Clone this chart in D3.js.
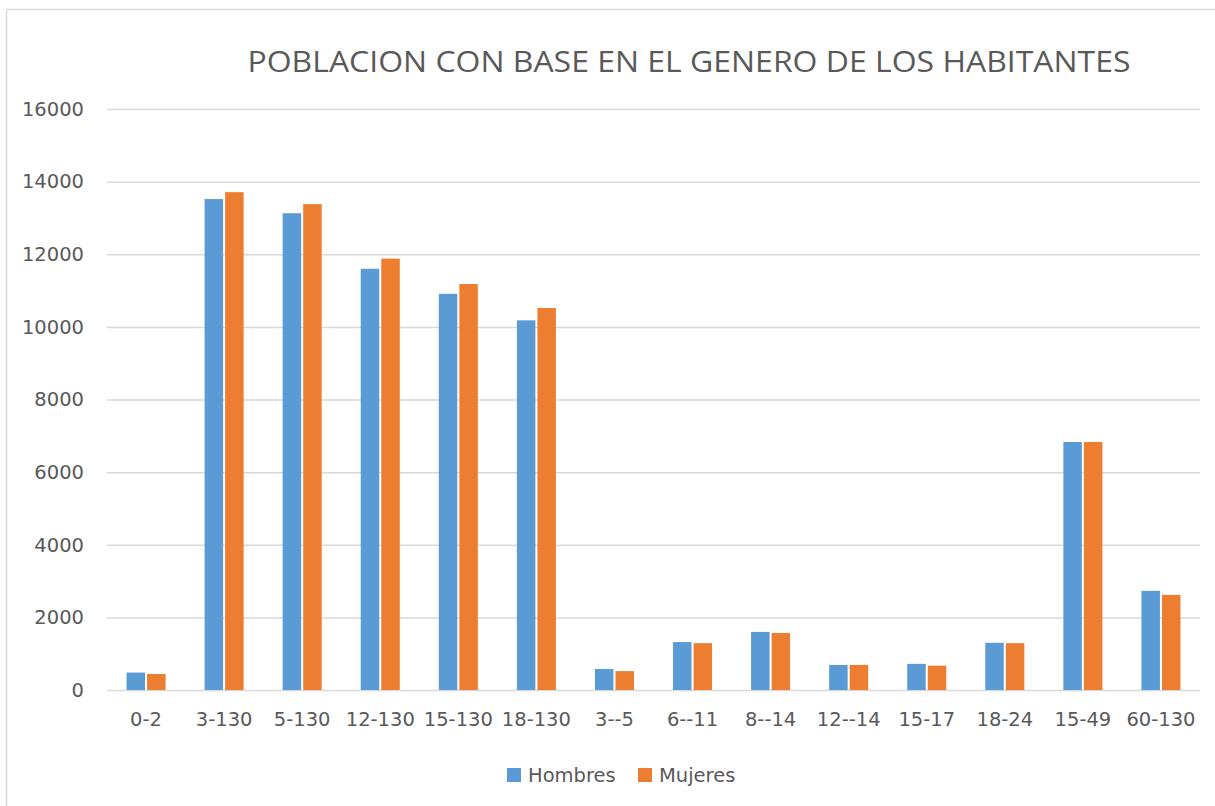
<!DOCTYPE html>
<html>
<head>
<meta charset="utf-8">
<script src="https://cdn.jsdelivr.net/npm/d3@7"></script>
<style>
  html, body { margin: 0; padding: 0; background: #fff; }
  svg { display: block; }
</style>
</head>
<body>
<div id="chart"></div>
<script>
const categories = ['0-2', '3-130', '5-130', '12-130', '15-130', '18-130', '3--5', '6--11', '8--14', '12--14', '15-17', '18-24', '15-49', '60-130'];
const hombres = [480, 13520, 13130, 11600, 10910, 10180, 580, 1320, 1600, 690, 720, 1300, 6830, 2730];
const mujeres = [440, 13710, 13380, 11880, 11180, 10520, 520, 1290, 1570, 690, 670, 1290, 6830, 2620];
const seriesNames = ['Hombres', 'Mujeres'];
const yTicks = [0, 2000, 4000, 6000, 8000, 10000, 12000, 14000, 16000];
const title = 'POBLACION CON BASE EN EL GENERO DE LOS HABITANTES';

const width = 1215, height = 806;
const colors = { Hombres: '#5b9bd5', Mujeres: '#ed7d31' };
const plot = { left: 107, right: 1200, top: 109, bottom: 690 };
const font = '"DejaVu Sans", sans-serif';
const labelSize = '19.5px';

const svg = d3.select('#chart').append('svg')
    .attr('width', width)
    .attr('height', height);

// chart area frame (runs off the right/bottom edge in the original)
svg.append('rect')
    .attr('x', 6.5).attr('y', 9.5)
    .attr('width', 1300).attr('height', 900)
    .attr('fill', '#fff')
    .attr('stroke', '#d9d9d9')
    .attr('stroke-width', 1.5);

const x0 = d3.scaleBand()
    .domain(categories)
    .range([plot.left, plot.right])
    .paddingInner(0.5)
    .paddingOuter(0.25);

const x1 = d3.scaleBand()
    .domain(seriesNames)
    .range([0, x0.bandwidth()])
    .paddingInner(0.1);

const y = d3.scaleLinear()
    .domain([0, 16000])
    .range([plot.bottom, plot.top]);

// gridlines + y labels
const yAxis = svg.append('g')
    .attr('transform', 'translate(' + plot.left + ',0)')
    .call(d3.axisLeft(y).tickValues(yTicks).tickSize(-(plot.right - plot.left)).tickPadding(23).tickFormat(d3.format('d')));
yAxis.select('.domain').remove();
yAxis.selectAll('.tick line')
    .attr('stroke', '#d9d9d9')
    .attr('stroke-width', 1.5);
yAxis.selectAll('.tick text')
    .attr('fill', '#595959')
    .style('font-family', font)
    .style('font-size', labelSize);

// x labels
const xAxis = svg.append('g')
    .attr('transform', 'translate(0,' + plot.bottom + ')')
    .call(d3.axisBottom(x0).tickSize(0).tickPadding(22));
xAxis.select('.domain').remove();
xAxis.selectAll('.tick text')
    .attr('fill', '#595959')
    .style('font-family', font)
    .style('font-size', labelSize);

// bars
const rows = categories.map((c, i) => ({ cat: c, Hombres: hombres[i], Mujeres: mujeres[i] }));

const groups = svg.append('g').selectAll('g')
    .data(rows)
    .join('g')
    .attr('transform', d => 'translate(' + x0(d.cat) + ',0)');

groups.selectAll('rect')
    .data(d => seriesNames.map(s => ({ key: s, value: d[s] })))
    .join('rect')
    .attr('x', d => x1(d.key))
    .attr('y', d => y(d.value))
    .attr('width', x1.bandwidth())
    .attr('height', d => y(0) - y(d.value))
    .attr('fill', d => colors[d.key]);

// title
svg.append('text')
    .attr('x', 689)
    .attr('y', 72)
    .attr('text-anchor', 'middle')
    .attr('fill', '#595959')
    .attr('textLength', 883)
    .attr('lengthAdjust', 'spacingAndGlyphs')
    .style('font-family', '"Open Sans", sans-serif')
    .style('font-size', '29px')
    .text(title);

// legend
const legend = svg.append('g');
const legendX = [507, 638];
seriesNames.forEach((s, i) => {
  legend.append('rect')
      .attr('x', legendX[i]).attr('y', 768)
      .attr('width', 14).attr('height', 14)
      .attr('fill', colors[s]);
  legend.append('text')
      .attr('x', legendX[i] + 21).attr('y', 782)
      .attr('fill', '#595959')
      .style('font-family', font)
      .style('font-size', labelSize)
      .text(s);
});
</script>
</body>
</html>
